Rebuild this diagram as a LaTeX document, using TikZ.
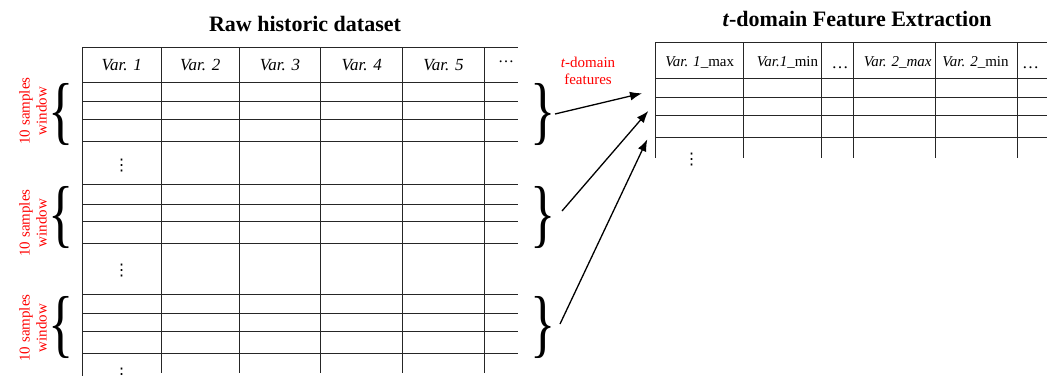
\documentclass[tikz,border=0pt]{standalone}
\usepackage{fontspec}
\setmainfont{Liberation Serif}
\newfontfamily\dotsfont{DejaVu Sans}
\usetikzlibrary{arrows.meta,positioning}

\begin{document}
\begin{tikzpicture}[x=1pt, y=-1pt,
    grid/.style={line width=0.8pt, black!85},
    title/.style={font=\fontsize{22}{26}\selectfont\bfseries, anchor=base},
    hdr/.style={font=\fontsize{17}{20}\selectfont\itshape, anchor=base},
    fhdr/.style={font=\fontsize{15}{18}\selectfont, anchor=base},
    dots/.style={font=\fontsize{17}{17}\selectfont, inner sep=0pt},
    vdots/.style={font=\fontsize{16}{16}\selectfont\dotsfont, inner sep=0pt, anchor=base},
    redlbl/.style={text=red, font=\fontsize{15}{17}\selectfont, align=center},
    brace/.style={font=\fontsize{75}{75}\selectfont, inner sep=0pt},
    feat/.style={-{Latex[length=12pt,width=9pt]}, line width=1.3pt}]
      \useasboundingbox (0,0) rectangle (1047,376);
      % titles
      \node[title] (rawtitle) at (305,31.7) {Raw historic dataset};
      \node[title] (feattitle) at (857,26.7) {\textit{t}-domain Feature Extraction};
      % raw dataset table
      \foreach \y in {47.3,82.3,101.7,119.3,141.7,184.7,204,221.7,243.7,294.3,313.3,331.3,353.3}
        \draw[grid] (82.7,\y) -- (518.3,\y);
      \foreach \x in {161,239.3,320.7,402.7,484.3}
        \draw[grid] (\x,47.3) -- (\x,373.3);
      \draw[grid] (82.7,47.3) -- (82.7,376);
      \foreach \i/\x in {1/121.8,2/200.2,3/280,4/361.7,5/443.5}
        \node[hdr] (var\i) at (\x,70) {Var. \i};
      \node[dots, font=\fontsize{16}{16}\selectfont] (varmore) at (506,61.7) {\ldots};
      \foreach \n/\y in {1/170.7,2/275,3/379}
        \node[vdots] (rawdots\n) at (121.7,\y) {⋮};
      % windows
      \foreach \n/\y/\l in {1/114/111,2/217.5/223,3/327.5/328} {
        \node[brace] (lb\n) at (61,\y) {\scalebox{0.7}[1]{\{}};
        \node[brace] (rb\n) at (543,\y) {\scalebox{0.7}[1]{\}}};
        \node[redlbl, rotate=90] (win\n) at (33,\l) {10 samples\\window};
      }
      \node[redlbl] (tfeat) at (588,71) {\textit{t}-domain\\features};
      % feature table
      \foreach \y in {42.7,78.3,97.7,115.7,137.3}
        \draw[grid] (655,\y) -- (1047,\y);
      \foreach \x in {655,743.3,821.7,853.3,935.7,1017.7}
        \draw[grid] (\x,42.7) -- (\x,158.3);
      \node[fhdr] (f1max) at (699.7,66) {\textit{Var. 1}\_max};
      \node[fhdr] (f1min) at (787.5,66) {\textit{Var.1}\_min};
      \node[dots] (fmore1) at (840,67.7) {\ldots};
      \node[fhdr] (f2max) at (897.7,66) {\textit{Var. 2\_max}};
      \node[fhdr] (f2min) at (975.5,66) {\textit{Var. 2}\_min};
      \node[dots] (fmore2) at (1030.7,67.7) {\ldots};
      \node[vdots] (featdots) at (691.7,164) {⋮};
      % arrows
      \coordinate (s1) at (555,114);   \coordinate (e1) at (642,93.3);
      \coordinate (s2) at (562,211);   \coordinate (e2) at (648.3,111);
      \coordinate (s3) at (560,324);   \coordinate (e3) at (647.3,139.3);
      \foreach \n in {1,2,3}
        \draw[feat] (s\n) -- (e\n);
    \end{tikzpicture}
\end{document}
